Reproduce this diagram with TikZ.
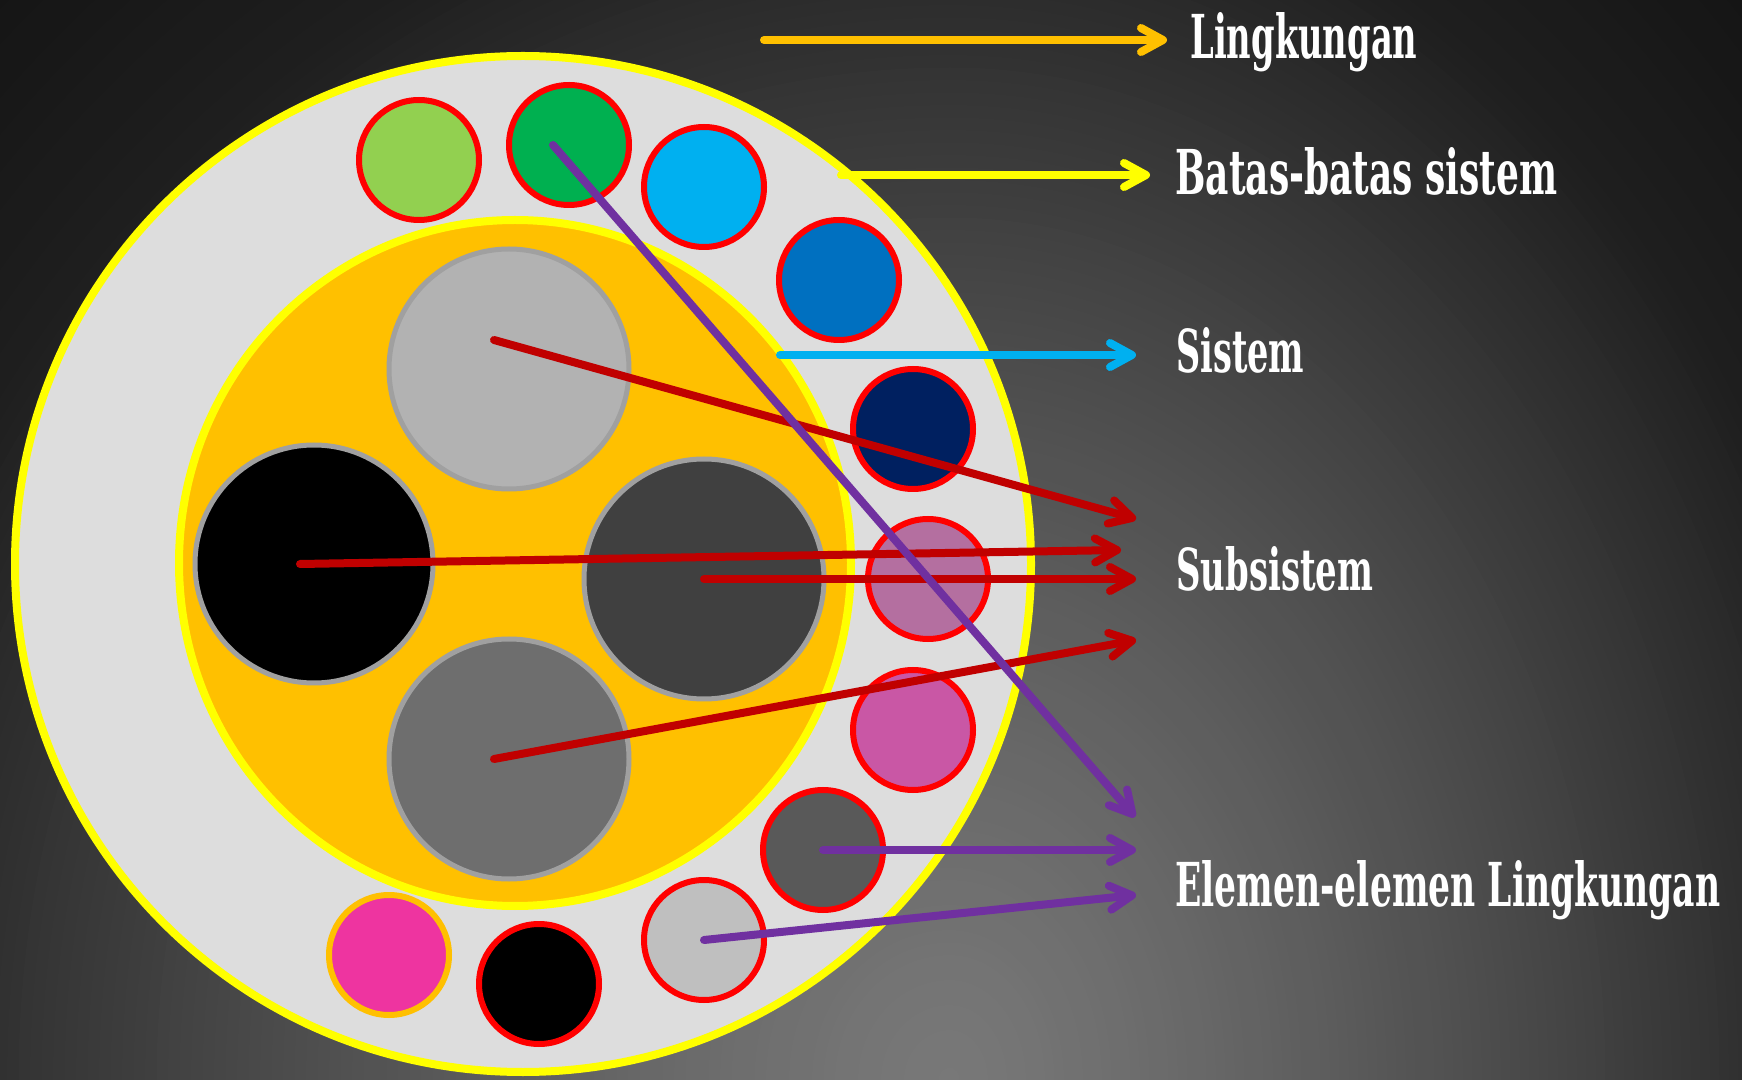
\documentclass[tikz,border=0pt]{standalone}
\usepackage{fontspec}
\setmainfont{DejaVu Serif}
\usepackage{graphicx}
\usetikzlibrary{arrows.meta,shapes.geometric}
\definecolor{bgin}{HTML}{787878}
\definecolor{cEdge}{HTML}{1E1E1E}
\definecolor{cCorner}{HTML}{111111}
\definecolor{ringfill}{HTML}{DDDDDD}
\definecolor{ylw}{HTML}{FFFF00}
\definecolor{orng}{HTML}{FFC000}
\definecolor{bigborder}{HTML}{A0A0A0}
\definecolor{gTop}{HTML}{B2B2B2}
\definecolor{gRight}{HTML}{404040}
\definecolor{gBottom}{HTML}{6E6E6E}
\definecolor{cLightGreen}{HTML}{92D050}
\definecolor{cGreen}{HTML}{00B050}
\definecolor{cLightBlue}{HTML}{00B0F0}
\definecolor{cBlue}{HTML}{0070C0}
\definecolor{cNavy}{HTML}{002060}
\definecolor{cMauve}{HTML}{B46FA0}
\definecolor{cPink}{HTML}{C957A5}
\definecolor{cDarkGrey}{HTML}{595959}
\definecolor{cLightGrey}{HTML}{BFBFBF}
\definecolor{cMagenta}{HTML}{EE34A0}
\definecolor{redc}{HTML}{C00000}
\definecolor{purplec}{HTML}{7030A0}
\definecolor{bordred}{HTML}{FF0000}
\begin{document}
\begin{tikzpicture}[x=0.5pt,y=-0.5pt,
  smallc/.style={circle, draw=bordred, line width=3pt, minimum size=60pt, inner sep=0pt},
  bigc/.style={circle, draw=bigborder, line width=2.5pt, minimum size=120pt, inner sep=0pt},
  arr/.style={line width=4pt, line cap=round, -{Straight Barb[length=11pt, width=12pt, round]}},
  lbl/.style={text=white, inner sep=0pt, anchor=base west}]
\useasboundingbox (0,0) rectangle (1742,1080);
% background vignette
\begin{scope}
  \clip (0,0) rectangle (1742,1080);
  \fill[cCorner] (0,0) rectangle (1742,1080);
  \foreach \i in {130,129,...,1}{
    \pgfmathsetmacro\s{\i/100}
    \ifnum\i>100
      \pgfmathsetmacro\p{100*(1-(\s-1)/0.3)}
      \colorlet{cc}{cEdge!\p!cCorner}
    \else
      \pgfmathsetmacro\p{100*(1-\s^1.3)}
      \colorlet{cc}{bgin!\p!cEdge}
    \fi
    \fill[cc] ({950+950*\s},1080)
      arc[start angle=0, end angle=90, x radius={475*\s*1pt}, y radius={625*\s*1pt}]
      arc[start angle=90, end angle=180, x radius={575*\s*1pt}, y radius={625*\s*1pt}]
      -- cycle;
  }
\end{scope}
% boundary ring and system
\node[circle, fill=ringfill, draw=ylw, line width=4pt, minimum size=508pt, inner sep=0pt] (ring) at (523,564) {};
\node[ellipse, fill=orng, draw=ylw, line width=4pt, minimum width=336pt, minimum height=343pt, inner sep=0pt] (sys) at (515,563) {};
% subsystems
\node[bigc, fill=gTop] (sTop) at (509,369) {};
\node[bigc, fill=black, minimum size=119pt] (sLeft) at (314,564) {};
\node[bigc, fill=gRight] (sRight) at (704,579) {};
\node[bigc, fill=gBottom] (sBottom) at (509,759) {};
% environment elements
\node[smallc, fill=cLightGreen] (e1) at (419,160) {};
\node[smallc, fill=cGreen] (e2) at (569,145) {};
\node[smallc, fill=cLightBlue] (e3) at (704,187) {};
\node[smallc, fill=cBlue] (e4) at (839,280) {};
\node[smallc, fill=cNavy] (e5) at (913,429) {};
\node[smallc, fill=cMauve] (e6) at (928,579) {};
\node[smallc, fill=cPink] (e7) at (913,730) {};
\node[smallc, fill=cDarkGrey] (e8) at (823,850) {};
\node[smallc, fill=cLightGrey] (e9) at (704,940) {};
\node[smallc, fill=black] (e10) at (539,984) {};
\node[smallc, fill=cMagenta, draw=orng] (e11) at (389,955) {};
% arrow ends
\coordinate (oStart) at (764,40);
\coordinate (oEnd) at (1167,40);
\coordinate (yStart) at (841,175);
\coordinate (yEnd) at (1150,175);
\coordinate (cStart) at (780,355);
\coordinate (cEnd) at (1136,355);
\coordinate (r1Start) at (494,340);
\coordinate (r1End) at (1136,519);
\coordinate (r2Start) at (300,564);
\coordinate (r2End) at (1121,550);
\coordinate (r4Start) at (494,759);
\coordinate (r4End) at (1136,640);
\coordinate (p1Start) at (553,145);
\coordinate (p1End) at (1135,817);
\coordinate (pEnd2) at (1136,850);
\coordinate (pEnd3) at (1136,895);
\coordinate (r3End) at (1136,579);
% arrows
\draw[arr, orng] (oStart) -- (oEnd);
\draw[arr, ylw] (yStart) -- (yEnd);
\draw[arr, cLightBlue] (cStart) -- (cEnd);
\draw[arr, redc] (r1Start) -- (r1End);
\draw[arr, redc] (r2Start) -- (r2End);
\draw[arr, redc] (sRight.center) -- (r3End);
\draw[arr, redc] (r4Start) -- (r4End);
\draw[arr, purplec] (p1Start) -- (p1End);
\draw[arr, purplec] (e8.center) -- (pEnd2);
\draw[arr, purplec] (e9.center) -- (pEnd3);
% labels
\node[lbl] (lLing) at (1190,59) {\resizebox{113.5pt}{23pt}{\bfseries Lingkungan}};
\node[lbl] (lBatas) at (1175,195) {\resizebox{191pt}{23.5pt}{\bfseries Batas-batas sistem}};
\node[lbl] (lSistem) at (1176,373) {\resizebox{64pt}{22.5pt}{\bfseries Sistem}};
\node[lbl] (lSub) at (1176,591) {\resizebox{98.5pt}{22pt}{\bfseries Subsistem}};
\node[lbl] (lElemen) at (1175,906) {\resizebox{272.5pt}{23pt}{\bfseries Elemen-elemen Lingkungan}};
\end{tikzpicture}
\end{document}
